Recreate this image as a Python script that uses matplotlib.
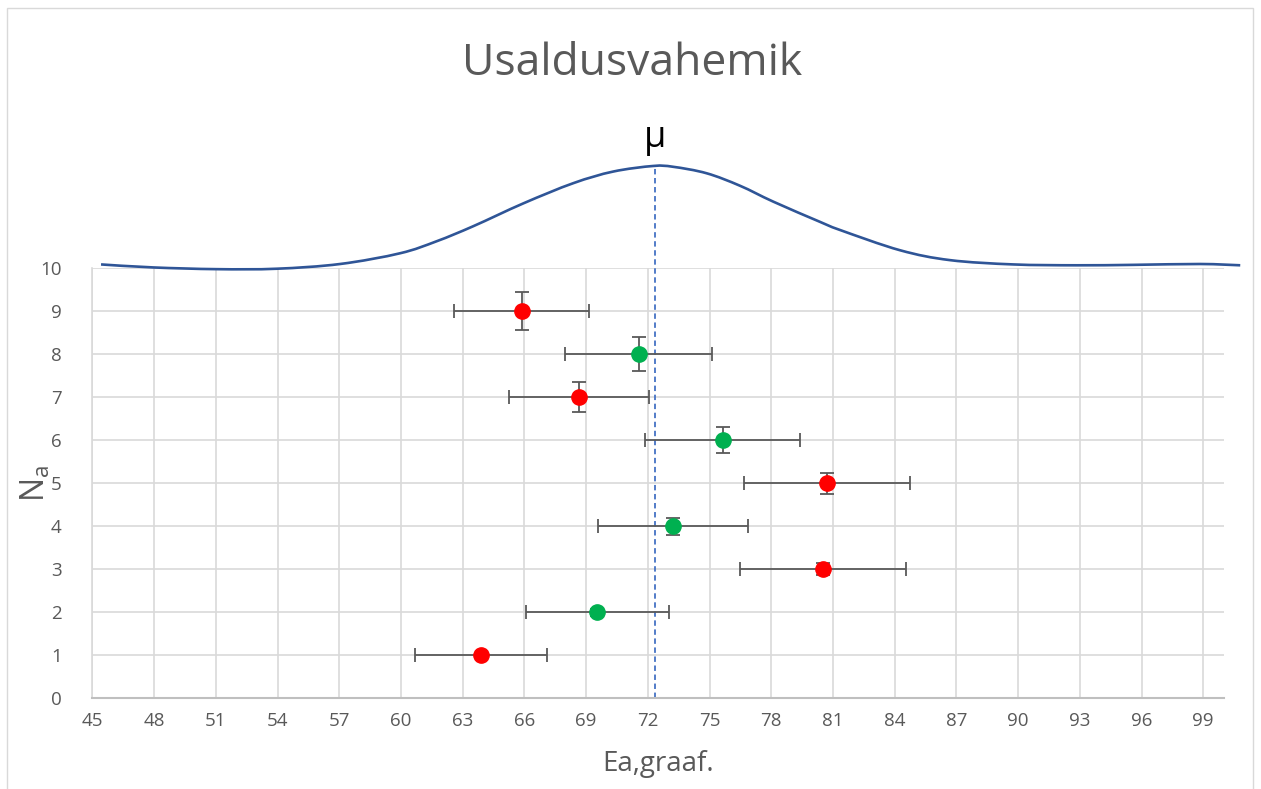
import matplotlib.pyplot as plt
from matplotlib.patches import Rectangle, PathPatch
from matplotlib.path import Path

plt.rcParams['font.family'] = ['Open Sans', 'DejaVu Sans']

# measurement rows: estimate, half-width of interval, small vertical spread
n_a = [1, 2, 3, 4, 5, 6, 7, 8, 9]
ea = [63.89, 69.55, 80.52, 73.24, 80.73, 75.64, 68.66, 71.56, 65.87]
ea_err = [3.20, 3.48, 4.02, 3.65, 4.03, 3.77, 3.42, 3.57, 3.29]
n_err = [0.04, 0.08, 0.14, 0.20, 0.24, 0.30, 0.35, 0.40, 0.44]
covers_mu = [False, True, False, True, False, True, False, True, False]

mu = 72.36

# bell-shaped guide curve drawn above the grid
curve_x = [45.42, 47.96, 51.04, 53.96, 57.04, 59.96, 61.74, 63.52, 65.95, 68.38,
           70.32, 72.27, 73.24, 74.86, 76.48, 78.10, 80.37, 81.35, 84.26,
           86.69, 89.77, 92.85, 95.60, 98.85, 100.80]
curve_y = [10.09, 10.02, 9.98, 9.99, 10.10, 10.35, 10.63, 10.98, 11.51, 11.98,
           12.25, 12.38, 12.36, 12.21, 11.92, 11.55, 11.08, 10.89, 10.42,
           10.19, 10.09, 10.07, 10.08, 10.10, 10.07]

x_ticks = list(range(45, 100, 3))
y_ticks = list(range(0, 11))


def smooth_path(xs, ys):
    # Catmull-Rom style smoothing expressed as cubic Bezier segments
    pts = list(zip(xs, ys))
    verts = [pts[0]]
    codes = [Path.MOVETO]
    for i in range(len(pts) - 1):
        p0 = pts[i - 1] if i > 0 else pts[i]
        p1 = pts[i]
        p2 = pts[i + 1]
        p3 = pts[i + 2] if i + 2 < len(pts) else pts[i + 1]
        c1 = (p1[0] + (p2[0] - p0[0]) / 6, p1[1] + (p2[1] - p0[1]) / 6)
        c2 = (p2[0] - (p3[0] - p1[0]) / 6, p2[1] - (p3[1] - p1[1]) / 6)
        verts += [c1, c2, p2]
        codes += [Path.CURVE4] * 3
    return Path(verts, codes)


txt = '#595959'
fig = plt.figure(figsize=(12.61, 7.89), dpi=100)
fig.patches.append(Rectangle((7 / 1261, -0.05), 1246 / 1261, 1.05 - 8 / 789,
                             transform=fig.transFigure, fill=False,
                             edgecolor='#D9D9D9', linewidth=1.0))

ax = fig.add_axes([92.4 / 1261, 90.7 / 789, 1132 / 1261, 430 / 789])
ax.set_xlim(45, 100.03)
ax.set_ylim(0, 10)
ax.set_xticks(x_ticks)
ax.set_yticks(y_ticks)
ax.grid(True, color='#D9D9D9', linewidth=1.2)
ax.set_axisbelow(True)
for side in ['top', 'right']:
    ax.spines[side].set_visible(False)
ax.spines['left'].set_color('#D9D9D9')
ax.spines['left'].set_linewidth(1.2)
ax.spines['bottom'].set_color('#BFBFBF')
ax.spines['bottom'].set_linewidth(1.5)
ax.tick_params(length=0, labelsize=13.5, labelcolor=txt, pad=10)
ax.tick_params(axis='y', pad=22)

bell = PathPatch(smooth_path(curve_x, curve_y), fill=False, edgecolor='#2F5597',
                 linewidth=1.9, clip_on=False, zorder=3)
ax.add_patch(bell)
ax.plot([mu, mu], [0, 12.38], color='#4472C4', linewidth=1.3,
        linestyle=(0, (3, 2)), clip_on=False, zorder=2)
ax.text(mu, 12.6, 'μ', ha='center', va='bottom', fontsize=26, color='black')

for x, y, xe, ye, ok in zip(ea, n_a, ea_err, n_err, covers_mu):
    ax.errorbar(x, y, xerr=xe, yerr=ye, fmt='o', color='#00B050' if ok else '#FF0000',
                markersize=11, ecolor='#595959', elinewidth=1.3, capsize=5,
                capthick=1.3, zorder=4)

fig.text(632 / 1261, 1 - 64 / 789, 'Usaldusvahemik', ha='center', va='center',
         fontsize=32, color=txt)
ax.set_xlabel('Ea,graaf.', fontsize=20, color=txt, labelpad=14)
fig.text(36 / 1261, 1 - 483 / 789, r'$\mathregular{N_a}$', rotation=90,
         ha='center', va='center', fontsize=23, color=txt)

fig.savefig('out.png', dpi=100)
